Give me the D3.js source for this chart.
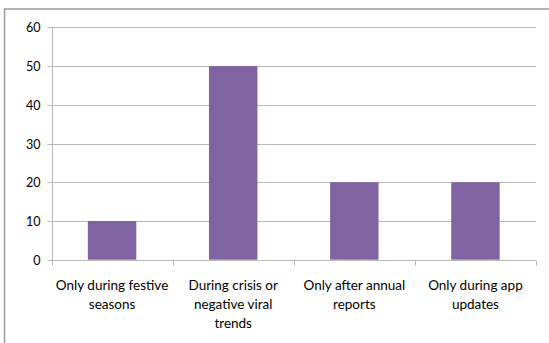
<!DOCTYPE html>
<html>
<head>
<meta charset="utf-8">
<script src="https://cdn.jsdelivr.net/npm/d3@7"></script>
<style>
  html, body { margin: 0; padding: 0; background: #ffffff; }
  svg { display: block; }
  text { font-family: Lato, "Open Sans", sans-serif; fill: #000; }
</style>
</head>
<body>
<svg id="chart" width="549" height="343"></svg>
<script>
const categories = [
  "Only during festive seasons",
  "During crisis or negative viral trends",
  "Only after annual reports",
  "Only during app updates"
];
const categoryLines = [
  ["Only during festive", "seasons"],
  ["During crisis or", "negative viral", "trends"],
  ["Only after annual", "reports"],
  ["Only during app", "updates"]
];
const values = [10, 50, 20, 20];
const yTicks = [0, 10, 20, 30, 40, 50, 60];

(function () {
const svg = d3.select("#chart");
const W = 549, H = 343;
const pLeft = 51.5, pRight = 536, pTop = 27.3, pBottom = 259.7;

// chart area border (extends off the right and bottom edges)
svg.append("path")
  .attr("d", `M4.5,${H + 5} L4.5,9 L${W + 5},9`)
  .attr("fill", "none")
  .attr("stroke", "#9a9a9a")
  .attr("stroke-width", 1.5);

const x = d3.scaleBand().domain(categories).range([pLeft, pRight]).padding(0);
const y = d3.scaleLinear().domain([0, 60]).range([pBottom, pTop]);

const gridColor = "#b8b8b8";

// gridlines
svg.append("g")
  .selectAll("line")
  .data(yTicks.filter(t => t > 0))
  .join("line")
  .attr("x1", pLeft).attr("x2", pRight)
  .attr("y1", d => Math.round(y(d)) + 0.5)
  .attr("y2", d => Math.round(y(d)) + 0.5)
  .attr("stroke", gridColor)
  .attr("stroke-width", 1);

// bars
const barW = x.bandwidth() * 0.4;
svg.append("g")
  .selectAll("rect")
  .data(values)
  .join("rect")
  .attr("x", (d, i) => x(categories[i]) + (x.bandwidth() - barW) / 2)
  .attr("width", barW)
  .attr("y", d => y(d))
  .attr("height", d => y(0) - y(d))
  .attr("fill", "#8064a2");

// y axis
const yAxis = d3.axisLeft(y).tickValues(yTicks).tickSize(5).tickPadding(7);
const gy = svg.append("g")
  .attr("transform", `translate(${Math.round(pLeft) + 0.5},0)`)
  .call(yAxis);
gy.attr("font-family", null).attr("font-size", null);
gy.select(".domain").attr("stroke", gridColor)
  .attr("d", `M0,${Math.round(y(60)) + 0.5}V${Math.round(y(0)) + 0.5}`);
gy.selectAll(".tick line").attr("stroke", gridColor);
gy.selectAll(".tick").attr("transform", d => `translate(0,${Math.round(y(d)) + 0.5})`);
gy.selectAll(".tick text")
  .attr("font-size", "12.5px")
  .attr("fill", "#000");

// x axis
const xAxis = d3.axisBottom(x).tickSize(0).tickFormat(() => "");
const gx = svg.append("g")
  .attr("transform", `translate(0,${Math.round(pBottom) + 0.5})`)
  .call(xAxis);
gx.select(".domain").attr("stroke", gridColor).attr("d", `M${pLeft},0H${pRight}`);
gx.selectAll(".tick").remove();

// category boundary tick marks
const edges = categories.map(c => x(c)).concat([pRight]);
gx.selectAll("line.edge")
  .data(edges)
  .join("line")
  .attr("class", "edge")
  .attr("x1", d => Math.round(d) + 0.5).attr("x2", d => Math.round(d) + 0.5)
  .attr("y1", 0).attr("y2", 5)
  .attr("stroke", gridColor);

// category labels
const lab = svg.append("g");
categoryLines.forEach((lines, i) => {
  const cx = x(categories[i]) + x.bandwidth() / 2;
  const t = lab.append("text")
    .attr("text-anchor", "middle")
    .attr("font-size", "13.5px");
  lines.forEach((ln, j) => {
    t.append("tspan")
      .attr("x", cx)
      .attr("y", 289.7 + j * 19.3)
      .text(ln);
  });
});
})();
</script>
</body>
</html>
